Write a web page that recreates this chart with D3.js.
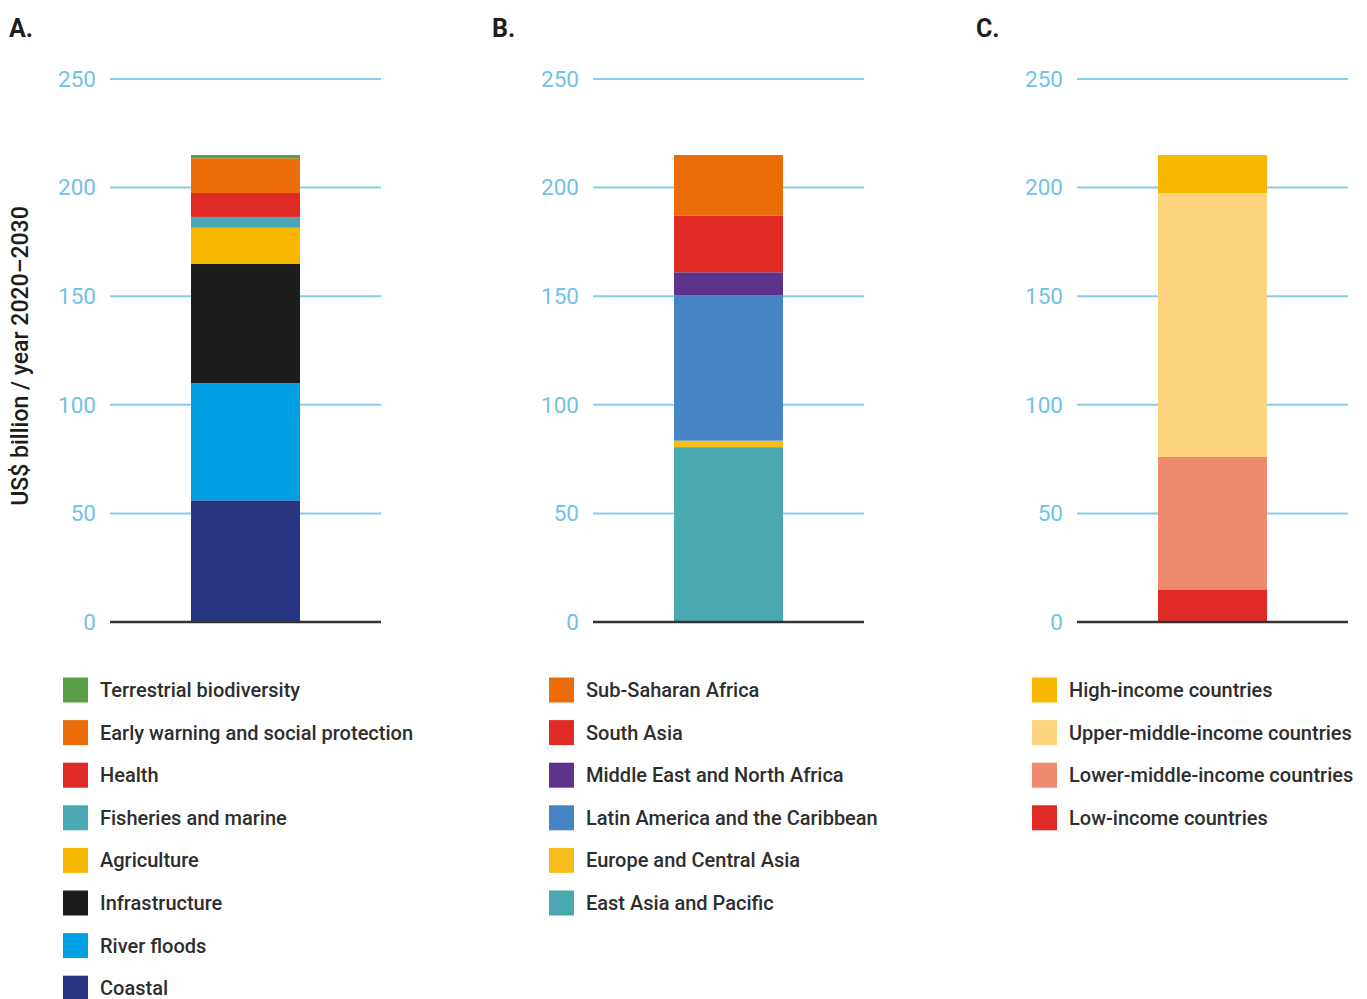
<!DOCTYPE html>
<html><head><meta charset="utf-8">
<script src="https://cdn.jsdelivr.net/npm/d3@7/dist/d3.min.js"></script>
<style>
body{margin:0;background:#fff;}
svg{display:block;font-family:Roboto,"Noto Sans",sans-serif;}
</style></head>
<body><svg id="c" width="1367" height="999"></svg>
<script>
// Data (bottom to top of stack)
const panelLetters = ["A.", "B.", "C."];
const sectorNames = ["Coastal","River floods","Infrastructure","Agriculture","Fisheries and marine","Health","Early warning and social protection","Terrestrial biodiversity"];
const sectorValues = [56, 54, 55, 16.5, 5, 11, 16, 1.5];
const sectorColors = ["#283583","#009fe3","#1d1d1b","#f8b800","#4aa8b4","#e02a25","#ea6d0a","#5a9e47"];

const regionNames = ["East Asia and Pacific","Europe and Central Asia","Latin America and the Caribbean","Middle East and North Africa","South Asia","Sub-Saharan Africa"];
const regionValues = [80.5, 3, 67, 10.5, 26, 28];
const regionColors = ["#4aa8b0","#f5bc1c","#4585c6","#5e338c","#e02a25","#ea6d0a"];

const incomeNames = ["Low-income countries","Lower-middle-income countries","Upper-middle-income countries","High-income countries"];
const incomeValues = [15, 61, 121.5, 17.5];
const incomeColors = ["#e02a25","#ee8a6e","#fdd47d","#f8b800"];

const tickValues = [0, 50, 100, 150, 200, 250];
const yTitle = "US$ billion / year 2020\u20132030";

const panels = [
  {names: sectorNames, values: sectorValues, colors: sectorColors},
  {names: regionNames, values: regionValues, colors: regionColors},
  {names: incomeNames, values: incomeValues, colors: incomeColors}
];
const offsets = [0, 483, 967];
const legendOffsets = [0, 486, 969];

const svg = d3.select("#c");
const y = d3.scaleLinear().domain([0, 250]).range([622, 79]);

panels.forEach((p, i) => {
  const g = svg.append("g").attr("transform", `translate(${offsets[i]},0)`);
  g.append("text").attr("x", 9).attr("y", 37).text(panelLetters[i])
    .attr("font-size", 25).attr("font-weight", 700).attr("fill", "#1d1d1b");

  const x = d3.scaleBand().domain(["total"]).range([110, 381]).paddingInner(0.4264).paddingOuter(0.4264);

  // gridlines
  g.selectAll("line.grid").data(tickValues.filter(d => d > 0)).join("line")
    .attr("x1", 110).attr("x2", 381)
    .attr("y1", d => y(d)).attr("y2", d => y(d))
    .attr("stroke", "#86cdec").attr("stroke-width", 2);

  // tick labels via axis
  const ax = g.append("g").attr("transform", "translate(96,0)")
    .call(d3.axisLeft(y).tickValues(tickValues).tickSize(0).tickPadding(0));
  ax.select(".domain").remove();
  ax.selectAll("text").attr("font-size", 22.5).attr("fill", "#72c2e8")
    .attr("font-family", "Roboto, sans-serif").attr("font-weight", 400);

  // stack
  const row = {};
  p.names.forEach((n, k) => row[n] = p.values[k]);
  const stack = d3.stack().keys(p.names)([row]);
  g.selectAll("rect.seg").data(stack).join("rect")
    .attr("x", x("total")).attr("width", x.bandwidth())
    .attr("y", d => y(d[0][1])).attr("height", d => y(d[0][0]) - y(d[0][1]))
    .attr("fill", (d, k) => p.colors[k]);

  // zero line
  g.append("line").attr("x1", 110).attr("x2", 381).attr("y1", y(0)).attr("y2", y(0))
    .attr("stroke", "#333333").attr("stroke-width", 2.5);

  // legend (top of stack first)
  const items = p.names.map((n, k) => ({n, c: p.colors[k]})).reverse();
  const lgRoot = svg.append("g").attr("transform", `translate(${legendOffsets[i]},0)`);
  const lg = lgRoot.selectAll("g.leg").data(items).join("g")
    .attr("transform", (d, k) => `translate(63,${690 + k * 42.6})`);
  lg.append("rect").attr("x", 0).attr("y", -12.5).attr("width", 25).attr("height", 25).attr("fill", d => d.c);
  lg.append("text").attr("x", 37).attr("y", 0).attr("dy", "0.35em").text(d => d.n)
    .attr("font-size", 20).attr("font-weight", 500).attr("fill", "#2e2e2e");
});

svg.append("text").attr("transform", "translate(28,356) rotate(-90)")
  .attr("text-anchor", "middle").text(yTitle)
  .attr("font-size", 23).attr("font-weight", 500).attr("fill", "#1d1d1b");
</script></body></html>
